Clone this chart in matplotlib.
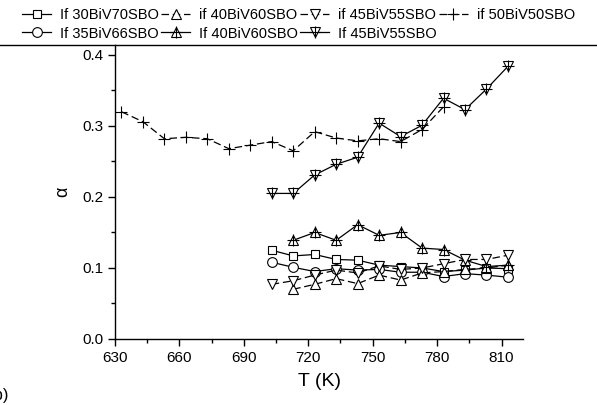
import matplotlib
matplotlib.use("Agg")
import matplotlib.pyplot as plt
from matplotlib.lines import Line2D
from matplotlib.ticker import MultipleLocator, FormatStrFormatter

plt.rcParams['font.family'] = ['Liberation Sans', 'DejaVu Sans']

# ---- data ----
T_plus = [633, 643, 653, 663, 673, 683, 693, 703, 713, 723, 733, 743, 753, 763, 773, 783]
a_50BiV50 = [0.320, 0.306, 0.282, 0.284, 0.282, 0.268, 0.273, 0.278, 0.265, 0.292,
             0.283, 0.279, 0.282, 0.278, 0.295, 0.327]

T_hi = [703, 713, 723, 733, 743, 753, 763, 773, 783, 793, 803, 813]
a_30BiV70 = [0.125, 0.117, 0.119, 0.112, 0.111, 0.104, 0.102, 0.100, 0.095, 0.097, 0.100, 0.099]
a_35BiV66 = [0.108, 0.101, 0.095, 0.099, 0.097, 0.098, 0.094, 0.094, 0.088, 0.092, 0.090, 0.087]
a_45BiV55 = [0.077, 0.082, 0.090, 0.097, 0.093, 0.103, 0.098, 0.100, 0.106, 0.112, 0.112, 0.118]
a_45BiV55b = [0.205, 0.205, 0.231, 0.246, 0.256, 0.304, 0.285, 0.301, 0.339, 0.323, 0.352, 0.384]

T_mid = [713, 723, 733, 743, 753, 763, 773, 783, 793, 803, 813]
a_40BiV60 = [0.070, 0.077, 0.085, 0.078, 0.090, 0.083, 0.093, 0.095, 0.098, 0.100, 0.104]
a_40BiV60b = [0.139, 0.150, 0.139, 0.161, 0.146, 0.150, 0.128, 0.126, 0.111, 0.102, 0.104]

labels = ["If 30BiV70SBO", "If 35BiV66SBO", "if 40BiV60SBO", "If 40BiV60SBO",
          "if 45BiV55SBO", "If 45BiV55SBO", "if 50BiV50SBO"]

fig = plt.figure(figsize=(5.97, 4.05), dpi=100)
ax = fig.add_axes([115/597, 1-339/405, (523-115)/597, (339-45)/405])

lw = 0.9
mk = dict(markerfacecolor='white', markeredgecolor='black', markeredgewidth=0.8)
dash = (0, (6, 3))
tri = 7.5

h30, = ax.plot(T_hi, a_30BiV70, '-', color='black', lw=lw, marker='s', ms=5.8, **mk)
h35, = ax.plot(T_hi, a_35BiV66, '-', color='black', lw=lw, marker='o', ms=7, **mk)
h40, = ax.plot(T_mid, a_40BiV60, linestyle=dash, color='black', lw=lw, marker='^', ms=tri, **mk)
h40b, = ax.plot(T_mid, a_40BiV60b, '-', color='black', lw=lw, marker='^', ms=tri, **mk)
h40bp, = ax.plot(T_mid, a_40BiV60b, linestyle='none', marker='+', ms=8, color='black', markeredgewidth=0.8)
h45, = ax.plot(T_hi, a_45BiV55, linestyle=dash, color='black', lw=lw, marker='v', ms=tri, **mk)
h45b, = ax.plot(T_hi, a_45BiV55b, '-', color='black', lw=lw, marker='v', ms=tri, **mk)
h45bp, = ax.plot(T_hi, a_45BiV55b, linestyle='none', marker='+', ms=8, color='black', markeredgewidth=0.8)
h50, = ax.plot(T_plus, a_50BiV50, linestyle=dash, color='black', lw=lw, marker='+', ms=8, markeredgewidth=0.8)

ax.set_xlim(630, 820)
ax.set_ylim(0, 0.414)
ax.xaxis.set_major_locator(MultipleLocator(30))
ax.xaxis.set_minor_locator(MultipleLocator(15))
ax.yaxis.set_major_locator(MultipleLocator(0.1))
ax.yaxis.set_minor_locator(MultipleLocator(0.05))
ax.yaxis.set_major_formatter(FormatStrFormatter('%.1f'))
for s in ['top', 'right']:
    ax.spines[s].set_visible(False)
for s in ['left', 'bottom']:
    ax.spines[s].set_linewidth(1.0)
ax.tick_params(which='major', direction='out', length=5, width=1, labelsize=11)
ax.tick_params(which='minor', direction='out', length=3, width=1)
ax.set_xlabel("T (K)", fontsize=14, labelpad=6)
ax.set_ylabel("α", fontsize=13, labelpad=8)

handles = [h30, h35, h40, (h40b, h40bp), h45, (h45b, h45bp), h50]
fig.legend(handles, labels, ncol=4, loc='upper left', bbox_to_anchor=(0.02, 1.005),
           frameon=False, fontsize=10.5, handlelength=2.0, handletextpad=0.6,
           columnspacing=0.15, labelspacing=0.3, borderaxespad=0.3)

fig.add_artist(Line2D([0, 1], [1-45/405, 1-45/405], transform=fig.transFigure,
                      color='black', lw=1.0))
fig.text(0.014, 0.005, "(b)", ha='right', va='bottom', fontsize=12)

fig.savefig("out.png", dpi=100)
